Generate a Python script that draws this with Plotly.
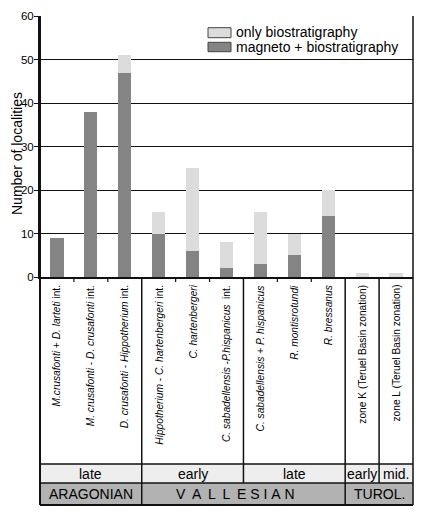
import plotly.graph_objects as go

categories = [
    "<i>M.crusafonti</i> + <i>D. larteti</i> int.",
    "<i>M. crusafonti</i> - <i>D. crusafonti</i> int.",
    "<i>D. crusafonti</i> - <i>Hippotherium</i> int.",
    "<i>Hippotherium</i> - <i>C. hartenbergeri</i> int.",
    "<i>C. hartenbergeri</i>",
    "<i>C. sabadellensis</i> -<i>P.hispanicus</i>  int.",
    "<i>C. sabadellensis</i> + <i>P. hispanicus</i>",
    "<i>R. montisrotundi</i>",
    "<i>R. bressanus</i>",
    "zone K (Teruel Basin zonation)",
    "zone L (Teruel Basin zonation)",
]
magneto_bio = [9, 38, 47, 10, 6, 2, 3, 5, 14, 0, 0]
only_bio = [0, 0, 4, 5, 19, 6, 12, 5, 6, 1, 1]

W1 = "\u00a0\u2009"
W2 = "\u00a0"
subages = [("late", 0, 3), ("early", 3, 6), ("late", 6, 9), ("early", 9, 10), ("mid.", 10, 11)]
ages = [("ARAGONIAN", 0, 3),
        ("V" + W1 + "A" + W1 + "L" + W1 + "L" + W1 + "E" + W2 + "S" + W2 + "I" + W2 + "A" + W2 + "N", 3, 9),
        ("TUROL.", 9, 11)]
legend_names = ["only biostratigraphy", "magneto + biostratigraphy"]

DARK = "#848484"
LIGHT = "#dcdcdc"
FONT = "Liberation Sans, Arial, sans-serif"

OFF = 8  # page body margin
W, H = 425 - OFF, 514 - OFF
ML, MT = 40 - OFF, 16 - OFF
MR = W - (413 - OFF)
MB = H - (277 - OFF)
PW = W - ML - MR
PH = H - MT - MB
n = len(categories)


def px(x):
    return (x - OFF - ML) / PW


def py(y):
    return (H - MB - (y - OFF)) / PH


def cx(i):
    return i / n


fig = go.Figure()
fig.add_trace(go.Bar(x=categories, y=magneto_bio, name=legend_names[1],
                     marker=dict(color=DARK, line=dict(width=0)), showlegend=False))
fig.add_trace(go.Bar(x=categories, y=only_bio, name=legend_names[0],
                     marker=dict(color=LIGHT, line=dict(width=0)), showlegend=False))

shapes = []
annotations = []

y_lab_bot = py(464)
y_r1_bot = py(483)
y_r2_bot = py(505)

shapes.append(dict(type="rect", xref="paper", yref="paper", x0=0, x1=1, y0=y_r1_bot, y1=y_lab_bot,
                   fillcolor="#eeeeee", line=dict(width=0), layer="below"))
shapes.append(dict(type="rect", xref="paper", yref="paper", x0=0, x1=1, y0=y_r2_bot, y1=y_r1_bot,
                   fillcolor="#b2b2b2", line=dict(width=0), layer="below"))

LC = "#111"
for yy, w in [(y_lab_bot, 1.5), (y_r1_bot, 1.5), (y_r2_bot, 2)]:
    shapes.append(dict(type="line", xref="paper", yref="paper", x0=0, x1=1, y0=yy, y1=yy,
                       line=dict(color=LC, width=w)))
for xx in [0, 1]:
    shapes.append(dict(type="line", xref="paper", yref="paper", x0=xx, x1=xx, y0=y_r2_bot, y1=1,
                       line=dict(color=LC, width=2 if xx == 0 else 1.5)))
for b in [3, 9]:
    shapes.append(dict(type="line", xref="paper", yref="paper", x0=cx(b), x1=cx(b), y0=y_r2_bot, y1=0,
                       line=dict(color=LC, width=1.5)))
for b in [6, 10]:
    shapes.append(dict(type="line", xref="paper", yref="paper", x0=cx(b), x1=cx(b), y0=y_r1_bot, y1=0,
                       line=dict(color=LC, width=1.5)))
for b in range(1, n):
    if b in (3, 6, 9, 10):
        continue
    shapes.append(dict(type="line", xref="paper", yref="paper", x0=cx(b), x1=cx(b), y0=py(282), y1=0,
                       line=dict(color=LC, width=1.2)))

for c in categories:
    annotations.append(dict(x=c, xref="x", y=py(283), yref="paper", text=c, textangle=-90,
                            showarrow=False, xanchor="center", yanchor="top",
                            font=dict(family=FONT, size=10.2, color="black")))

for t, a, b in subages:
    annotations.append(dict(x=(cx(a) + cx(b)) / 2, xref="paper", y=(y_lab_bot + y_r1_bot) / 2, yref="paper",
                            text=t, showarrow=False, xanchor="center", yanchor="middle",
                            font=dict(family=FONT, size=14, color="black")))
for t, a, b in ages:
    xc = (cx(a) + cx(b)) / 2
    if a == 3:
        xc = px(235)
    annotations.append(dict(x=xc, xref="paper", y=(y_r1_bot + y_r2_bot) / 2, yref="paper",
                            text=t, showarrow=False, xanchor="center", yanchor="middle",
                            font=dict(family=FONT, size=14, color="black")))

shapes.append(dict(type="rect", xref="paper", yref="paper", x0=px(208), x1=px(231), y0=py(37.7), y1=py(27.7),
                   fillcolor=LIGHT, line=dict(color="#444", width=1)))
shapes.append(dict(type="rect", xref="paper", yref="paper", x0=px(208), x1=px(231), y0=py(51.7), y1=py(42.3),
                   fillcolor=DARK, line=dict(color="#444", width=1)))
annotations.append(dict(x=px(234), xref="paper", y=py(32.5), yref="paper", text=legend_names[0],
                        showarrow=False, xanchor="left", yanchor="middle",
                        font=dict(family=FONT, size=14, color="black")))
annotations.append(dict(x=px(234), xref="paper", y=py(47), yref="paper", text=legend_names[1],
                        showarrow=False, xanchor="left", yanchor="middle",
                        font=dict(family=FONT, size=14, color="black")))

annotations.append(dict(x=px(8), xref="paper", y=py(154), yref="paper", text="Number of localities",
                        textangle=-90, showarrow=False, xanchor="left", yanchor="middle", borderpad=0,
                        font=dict(family=FONT, size=14, color="black")))

fig.update_layout(
    width=W, height=H,
    margin=dict(l=ML, r=MR, t=MT, b=MB),
    barmode="stack",
    bargap=0.61,
    plot_bgcolor="white", paper_bgcolor="white",
    font=dict(family=FONT, color="black"),
    xaxis=dict(range=[-0.5, n - 0.5], showticklabels=False, ticks="", showgrid=False,
               showline=True, linecolor=LC, linewidth=2, zeroline=False),
    yaxis=dict(range=[0, 60], dtick=10, showgrid=True, gridcolor=LC, gridwidth=1.3,
               ticks="outside", ticklen=4, tickcolor=LC, tickwidth=1.3, ticklabelstandoff=-2,
               tickfont=dict(family=FONT, size=11.5, color="black"), automargin=False,
               showline=True, linecolor=LC, linewidth=2, zeroline=False, mirror=False),
    shapes=shapes,
    annotations=annotations,
)

fig.write_html("out.html")
